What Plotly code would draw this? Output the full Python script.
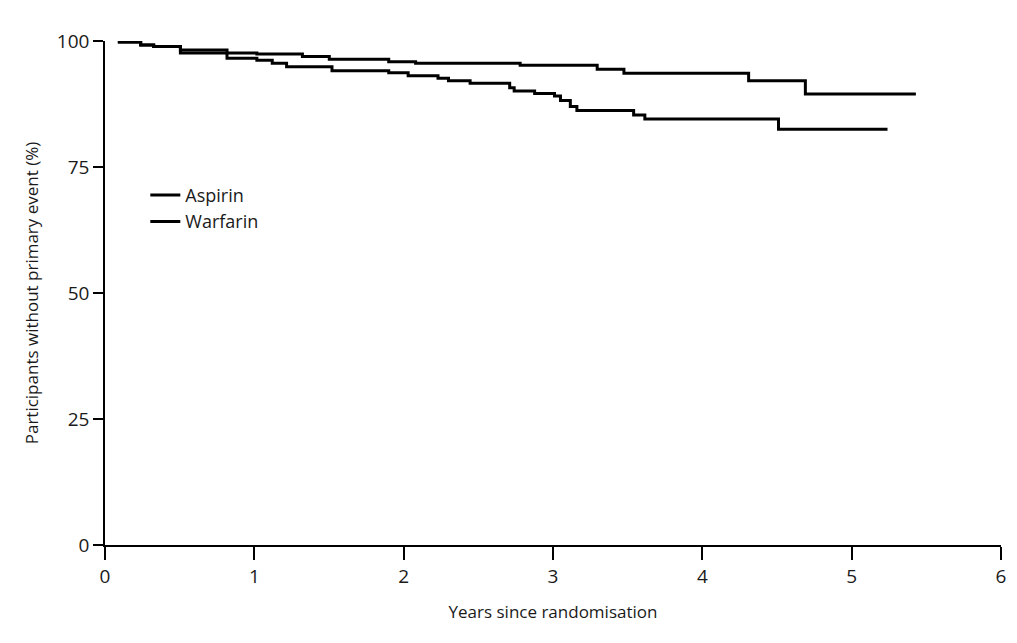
import plotly.graph_objects as go

# Kaplan-Meier step points (years, % without primary event)
warfarin_years = [0.086, 0.239, 0.326, 0.505, 0.817, 1.017, 1.322, 1.502, 1.90, 2.08, 2.78, 3.296, 3.475, 4.31, 4.69, 5.43]
warfarin_pct = [99.8, 99.2, 98.9, 98.2, 97.6, 97.4, 96.9, 96.4, 95.9, 95.6, 95.2, 94.4, 93.6, 92.1, 89.5, 89.5]

aspirin_years = [0.086, 0.239, 0.326, 0.505, 0.817, 1.017, 1.12, 1.216, 1.52, 1.90, 2.03, 2.23, 2.30, 2.445,
                 2.71, 2.74, 2.877, 3.01, 3.05, 3.116, 3.16, 3.54, 3.615, 4.51, 5.24]
aspirin_pct = [99.8, 99.2, 98.9, 97.6, 96.6, 96.2, 95.6, 94.9, 94.1, 93.7, 93.1, 92.6, 92.1, 91.6,
               90.7, 90.1, 89.6, 89.1, 88.2, 87.0, 86.2, 85.3, 84.5, 82.5, 82.5]

x_ticks = [0, 1, 2, 3, 4, 5, 6]
y_ticks = [0, 25, 50, 75, 100]

font_family = "Open Sans, Lato, sans-serif"

fig = go.Figure()
fig.add_trace(go.Scatter(x=aspirin_years, y=aspirin_pct, mode="lines", name="Aspirin",
                         line=dict(color="black", width=3, shape="hv")))
fig.add_trace(go.Scatter(x=warfarin_years, y=warfarin_pct, mode="lines", name="Warfarin",
                         line=dict(color="black", width=3, shape="hv")))

fig.update_layout(
    width=1001, height=615,
    margin=dict(l=97, r=8, t=33, b=78),
    paper_bgcolor="white", plot_bgcolor="white",
    font=dict(family=font_family, size=17, color="#1a1a1a"),
    showlegend=True,
    legend=dict(x=0.045, y=0.668, xanchor="left", yanchor="middle",
                bgcolor="rgba(0,0,0,0)", font=dict(size=18),
                itemwidth=30),
    xaxis=dict(range=[0, 6], tickvals=x_ticks, ticktext=[str(v) for v in x_ticks],
               automargin=False, ticklabeloverflow="allow",
               showgrid=False, zeroline=False, showline=True, linecolor="black", linewidth=2,
               ticks="outside", ticklen=13, tickwidth=1.5, tickcolor="black",
               tickfont=dict(size=19),
               title=dict(text="Years since randomisation", font=dict(size=17), standoff=30)),
    yaxis=dict(range=[0, 100], tickvals=y_ticks, ticktext=[str(v) for v in y_ticks],
               automargin=False,
               showgrid=False, zeroline=False, showline=True, linecolor="black", linewidth=1.5,
               ticks="outside", ticklen=10, tickwidth=1.5, tickcolor="black",
               tickfont=dict(size=19),
               title=dict(text="Participants without primary event (%)", font=dict(size=17), standoff=14)),
)

fig.write_html("out.html")
